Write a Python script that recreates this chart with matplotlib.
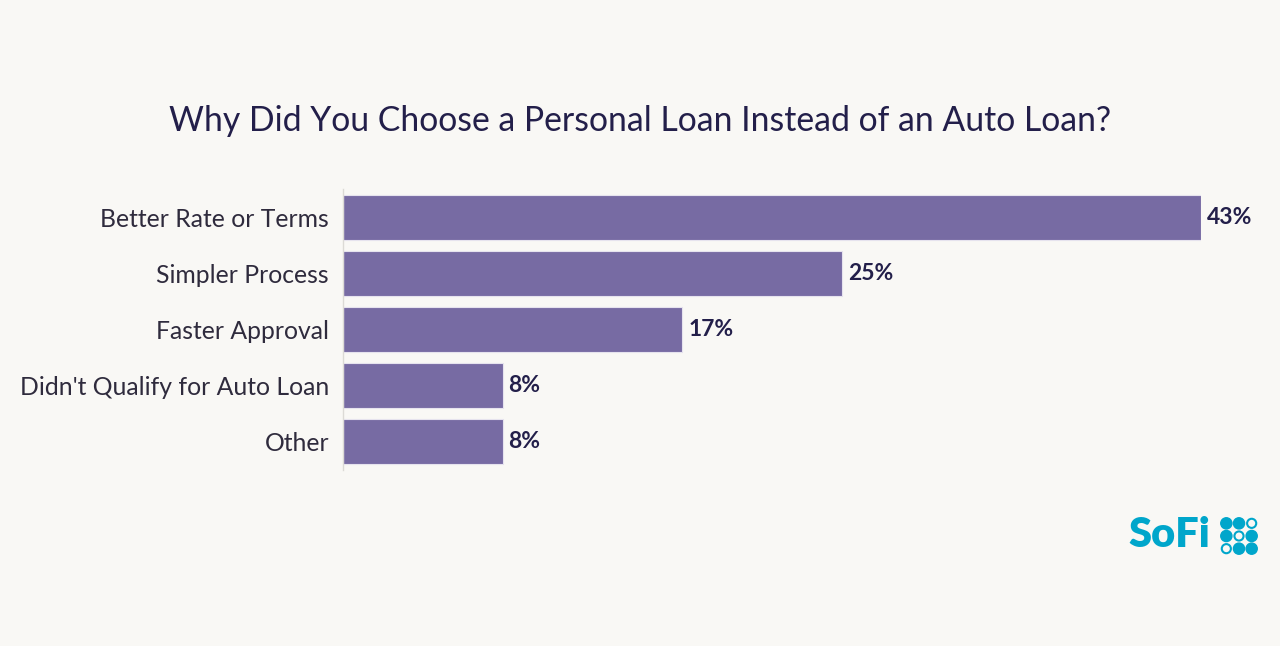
import numpy as np
import matplotlib.pyplot as plt
from matplotlib.patches import Circle

# Survey answers
categories = ["Better Rate or Terms", "Simpler Process", "Faster Approval",
              "Didn't Qualify for Auto Loan", "Other"]
shares = [43, 25, 17, 8, 8]
value_labels = ["43%", "25%", "17%", "8%", "8%"]

BG = "#f9f8f5"
BAR = "#776ba3"
NAVY = "#231f4a"
TEXT = "#2f2b3d"
CYAN = "#00a6cb"

plt.rcParams['font.family'] = ['Lato', 'DejaVu Sans']

fig = plt.figure(figsize=(12.8, 6.46), dpi=100, facecolor=BG)
ax = fig.add_axes([343 / 1280, 1 - 470 / 646, 858 / 1280, 281 / 646])
ax.set_facecolor(BG)

y = np.arange(len(categories))
ax.barh(y, shares, height=0.8, color=BAR, edgecolor="#e6e3ee", linewidth=0.8)
ax.set_xlim(0, 43)
ax.set_ylim(len(categories) - 0.5, -0.5)

for yi, v, lab in zip(y, shares, value_labels):
    ax.text(v + 0.3, yi, lab, va="center", ha="left", fontsize=16.5,
            fontweight="bold", color=NAVY)

ax.set_yticks(y)
ax.set_yticklabels(categories, fontsize=17.8, color=TEXT)
ax.tick_params(axis="y", length=0, pad=10)
ax.set_xticks([])
for s in ["top", "right", "bottom"]:
    ax.spines[s].set_visible(False)
ax.spines["left"].set_color("#dcdad6")
ax.spines["left"].set_linewidth(1)

fig.text(0.5, 1 - 121 / 646, "Why Did You Choose a Personal Loan Instead of an Auto Loan?",
         ha="center", va="center", fontsize=24.3, color=NAVY)

# SoFi logo
fig.text(1128 / 1280, 1 - 535 / 646, "SoFi", ha="left", va="center",
         fontsize=30, fontweight="heavy", color=CYAN)
lax = fig.add_axes([1220 / 1280, 1 - 555 / 646, 38 / 1280, 38 / 646])
lax.set_xlim(0, 3)
lax.set_ylim(0, 3)
lax.set_aspect("equal")
lax.axis("off")
filled = [[1, 1, 0], [1, 0, 1], [0, 1, 1]]
for r in range(3):
    for c in range(3):
        cx, cy = c + 0.5, 2.5 - r
        if filled[r][c]:
            lax.add_patch(Circle((cx, cy), 0.44, color=CYAN))
        else:
            lax.add_patch(Circle((cx, cy), 0.36, facecolor="none", edgecolor=CYAN, linewidth=1.5))

fig.savefig("out.png", dpi=100, facecolor=BG)
